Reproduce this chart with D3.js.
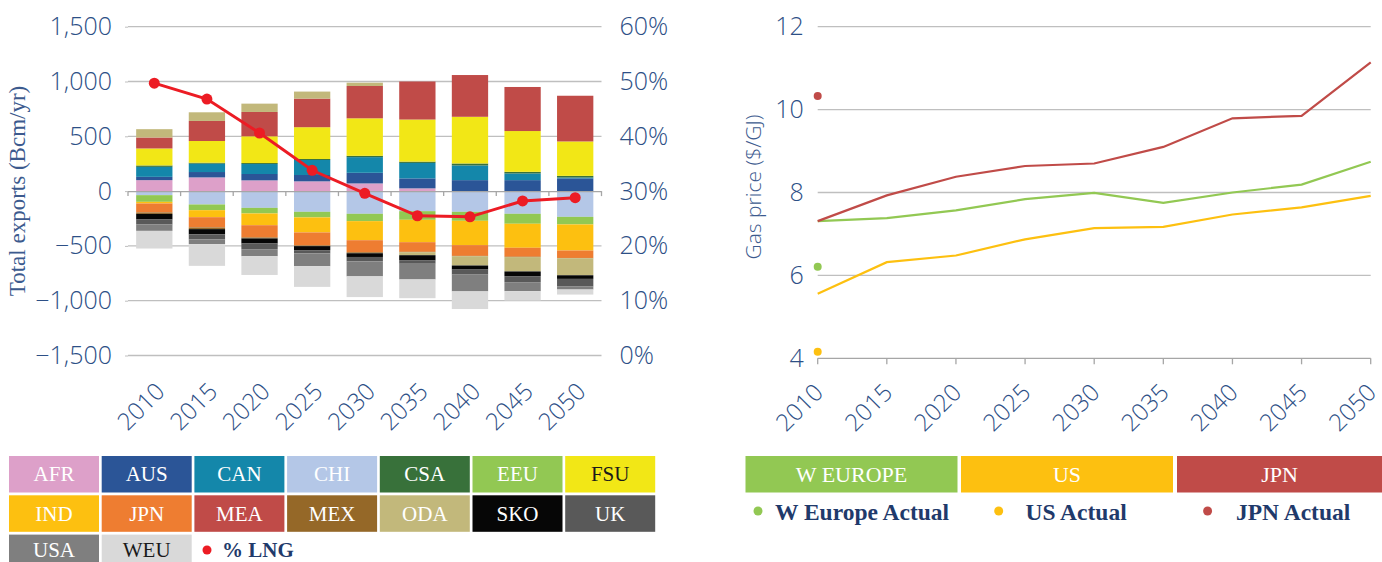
<!DOCTYPE html>
<html><head><meta charset="utf-8">
<script src="https://cdn.jsdelivr.net/npm/d3@7"></script>
<style>
body{margin:0;background:#fff;}
svg{display:block;}
</style></head>
<body>
<svg id="c" width="1382" height="562"></svg>
<script>
const years = ["2010","2015","2020","2025","2030","2035","2040","2045","2050"];
const regions = ["AFR","AUS","CAN","CHI","CSA","EEU","FSU","IND","JPN","MEA","MEX","ODA","SKO","UK","USA","WEU"];
const regionColors = ["#DDA0C9","#2B5597","#1487AA","#B4C7E7","#38713A","#92C853","#F2E716","#FDC010","#EE7D31","#C04B48","#956828","#C2B87B","#060606","#595959","#7F7F7F","#D9D9D9"];
const legendTextDark = ["FSU","WEU"];
// Bcm/yr, positive = exports, negative = imports
const AFR = [100,125,98,89,70,25,0,0,0];
const AUS = [30,49,58,58,97,91,100,100,116];
const CAN = [91,76,91,137,143,141,134,61,8];
const CHI = [-37,-122,-153,-189,-207,-183,-189,-207,-235];
const CSA = [13,9,9,9,12,12,18,15,15];
const EEU = [-61,-52,-51,-51,-67,-79,-82,-91,-69];
const FSU = [155,198,244,290,342,384,426,372,314];
const IND = [-15,-64,-107,-137,-174,-204,-222,-219,-238];
const JPN = [-82,-94,-112,-119,-110,-88,-98,-82,-68];
const MEA = [100,183,222,261,295,347,381,402,417];
const MEX = [-13,-15,-9,-6,-9,-4,-3,-3,-3];
const ODA = [76,79,76,64,30,-27,-85,-131,-155];
const SKO = [-51,-48,-46,-37,-34,-48,-37,-43,-33];
const UK = [-46,-46,-52,-30,-40,-30,-46,-55,-70];
const USA = [-58,-43,-64,-116,-137,-143,-153,-82,-27];
const WEU = [-161,-198,-171,-189,-189,-171,-161,-85,-46];
const lngShare = [0.497,0.468,0.406,0.338,0.296,0.255,0.253,0.282,0.288];
const leftTicks = [-1500,-1000,-500,0,500,1000,1500];
const rightTicks = [0,0.1,0.2,0.3,0.4,0.5,0.6];

const priceSeries = ["W EUROPE","US","JPN"];
const priceColors = ["#92C853","#FDC010","#C04B48"];
const weuPrice = [7.31,7.38,7.57,7.84,7.99,7.75,8.0,8.19,8.74];
const usPrice = [5.56,6.32,6.48,6.87,7.14,7.17,7.47,7.64,7.92];
const jpnPrice = [7.31,7.93,8.38,8.64,8.70,9.10,9.79,9.85,11.14];
const actualLabels = ["W Europe Actual","US Actual","JPN Actual"];
const actualValues = [6.21,4.16,10.33];
const priceTicks = [4,6,8,10,12];

const regionValues = {AFR,AUS,CAN,CHI,CSA,EEU,FSU,IND,JPN,MEA,MEX,ODA,SKO,UK,USA,WEU};
const rows = years.map((y,i)=>{const o={year:y}; regions.forEach(r=>o[r]=regionValues[r][i]); return o;});

const svg = d3.select("#c");
const navy = "#2D4F86";
const sans = "'Open Sans', 'Lato', sans-serif";
const serif = "'Liberation Serif', 'DejaVu Serif', serif";
const gridCol = "#BFBFBF";

// ---------- LEFT CHART ----------
const xL = d3.scaleBand().domain(years).range([128, 601.5]).padding(0);
const yL = d3.scaleLinear().domain([-1500,1500]).range([355.5, 26.7]);
const yR = d3.scaleLinear().domain([0,0.6]).range([355.5, 26.7]);
const barW = xL.bandwidth()*0.69;

svg.append("g").selectAll("line").data(leftTicks.filter(d=>d!==0)).join("line")
  .attr("x1",128).attr("x2",601.5).attr("y1",d=>yL(d)).attr("y2",d=>yL(d))
  .attr("stroke",gridCol).attr("stroke-width",1.3);

const colorScale = d3.scaleOrdinal().domain(regions).range(regionColors);
const stack = d3.stack().keys(regions).offset(d3.stackOffsetDiverging)(rows);
svg.append("g").selectAll("g").data(stack).join("g").attr("fill",d=>colorScale(d.key))
  .selectAll("rect").data(d=>d).join("rect")
  .attr("x",d=>xL(d.data.year)+(xL.bandwidth()-barW)/2)
  .attr("width",barW)
  .attr("y",d=>yL(Math.max(d[0],d[1])))
  .attr("height",d=>Math.abs(yL(d[0])-yL(d[1])));

const zeroY = yL(0);
svg.append("line").attr("x1",128).attr("x2",601.5).attr("y1",zeroY+0.5).attr("y2",zeroY+0.5)
  .attr("stroke","#A6A6A6").attr("stroke-width",1.3);
svg.append("g").selectAll("line").data(d3.range(years.length+1)).join("line")
  .attr("x1",i=>128+i*xL.step()).attr("x2",i=>128+i*xL.step())
  .attr("y1",zeroY).attr("y2",zeroY+5).attr("stroke","#A6A6A6").attr("stroke-width",1.3);

const axL = svg.append("g").attr("transform","translate(128,0)")
  .call(d3.axisLeft(yL).tickValues(leftTicks).tickSize(3).tickPadding(13).tickFormat(d3.format(",")));
axL.select(".domain").remove();
axL.selectAll(".tick line").attr("stroke",gridCol);
axL.selectAll("text").attr("font-family",sans).attr("font-weight",300).attr("font-size",25).attr("fill",navy);

const axR = svg.append("g").attr("transform","translate(601.5,0)")
  .call(d3.axisRight(yR).tickValues(rightTicks).tickSize(0).tickPadding(18).tickFormat(d3.format(".0%")));
axR.select(".domain").remove();
axR.selectAll("text").attr("font-family",sans).attr("font-weight",300).attr("font-size",25).attr("fill",navy);

svg.append("g").selectAll("text").data(years).join("text")
  .attr("transform",d=>`translate(${xL(d)+xL.bandwidth()/2+12},393) rotate(-45)`)
  .attr("text-anchor","end").attr("font-family",sans).attr("font-weight",300)
  .attr("font-size",24).attr("fill",navy).text(d=>d);

svg.append("text").attr("transform","translate(25,191) rotate(-90)").attr("text-anchor","middle")
  .attr("font-family",serif).attr("font-size",23).attr("fill","#3C5A8E").text("Total exports (Bcm/yr)");

const lng = d3.line().x((d,i)=>xL(years[i])+xL.bandwidth()/2).y(d=>yR(d));
svg.append("path").datum(lngShare).attr("d",lng).attr("fill","none").attr("stroke","#EC1C24").attr("stroke-width",3);
svg.append("g").selectAll("circle").data(lngShare).join("circle")
  .attr("cx",(d,i)=>xL(years[i])+xL.bandwidth()/2).attr("cy",d=>yR(d)).attr("r",5.5).attr("fill","#EC1C24");

const lg = svg.append("g");
const cellW = 90, cellH = 36.5, strideX = 92.7, strideY = 39.3;
regions.forEach((r,i)=>{
  const col = i%7, row = Math.floor(i/7);
  const x = 9+col*strideX, y = 456+row*strideY;
  lg.append("rect").attr("x",x).attr("y",y).attr("width",cellW).attr("height",cellH).attr("fill",colorScale(r));
  lg.append("text").attr("x",x+cellW/2).attr("y",row===2?557:y+cellH/2+7).attr("text-anchor","middle")
    .attr("font-family",serif).attr("font-size",21).attr("fill",legendTextDark.includes(r)?"#1a1a1a":"#fff").text(r);
});
lg.append("circle").attr("cx",207).attr("cy",550).attr("r",4.5).attr("fill","#EC1C24");
lg.append("text").attr("x",222).attr("y",557).attr("font-family",serif).attr("font-weight","bold")
  .attr("font-size",21).attr("fill","#1F3A6B").text("% LNG");

// ---------- RIGHT CHART ----------
const xP = d3.scalePoint().domain(years).range([817.7,1370.7]);
const yP = d3.scaleLinear().domain([4,12]).range([358.3,26.7]);

svg.append("g").selectAll("line").data(priceTicks).join("line")
  .attr("x1",817.7).attr("x2",1370.7).attr("y1",d=>yP(d)).attr("y2",d=>yP(d))
  .attr("stroke",d=>d===4?"#A6A6A6":gridCol).attr("stroke-width",1.3);
svg.append("g").selectAll("line").data(years).join("line")
  .attr("x1",d=>xP(d)).attr("x2",d=>xP(d)).attr("y1",yP(4)).attr("y2",yP(4)+6)
  .attr("stroke","#A6A6A6").attr("stroke-width",1.3);

const axP = svg.append("g").attr("transform","translate(817.7,0)")
  .call(d3.axisLeft(yP).tickValues(priceTicks).tickSize(0).tickPadding(14));
axP.select(".domain").remove();
axP.selectAll("text").attr("font-family",sans).attr("font-weight",300).attr("font-size",25).attr("fill",navy);

svg.append("g").selectAll("text").data(years).join("text")
  .attr("transform",d=>`translate(${xP(d)+7},394) rotate(-45)`)
  .attr("text-anchor","end").attr("font-family",sans).attr("font-weight",300)
  .attr("font-size",24).attr("fill",navy).text(d=>d);

svg.append("text").attr("transform","translate(761,187) rotate(-90)").attr("text-anchor","middle")
  .attr("font-family",sans).attr("font-weight",300).attr("font-size",21).attr("fill","#3C5A8E").text("Gas price ($/GJ)");

const priceData = [weuPrice, usPrice, jpnPrice];
const pl = d3.line().x((d,i)=>xP(years[i])).y(d=>yP(d));
priceData.forEach((s,k)=>{
  svg.append("path").datum(s).attr("d",pl).attr("fill","none").attr("stroke",priceColors[k]).attr("stroke-width",2.2);
});
svg.append("g").selectAll("circle").data(actualValues).join("circle")
  .attr("cx",xP("2010")).attr("cy",d=>yP(d)).attr("r",4).attr("fill",(d,i)=>priceColors[i]);

const rl = svg.append("g");
const rCells = [[745.5,212],[961,212],[1177,205]];
priceSeries.forEach((s,i)=>{
  rl.append("rect").attr("x",rCells[i][0]).attr("y",456).attr("width",rCells[i][1]).attr("height",36.5).attr("fill",priceColors[i]);
  rl.append("text").attr("x",rCells[i][0]+rCells[i][1]/2).attr("y",481.5).attr("text-anchor","middle")
    .attr("font-family",serif).attr("font-size",22).attr("fill","#fff").text(s);
});
const dotX = [758,998.7,1207.6], txtX = [775,1025.5,1236];
actualLabels.forEach((s,i)=>{
  rl.append("circle").attr("cx",dotX[i]).attr("cy",511).attr("r",4.5).attr("fill",priceColors[i]);
  rl.append("text").attr("x",txtX[i]).attr("y",519.5).attr("font-family",serif).attr("font-weight","bold")
    .attr("font-size",23.5).attr("fill","#1F3A6B").text(s);
});
</script>
</body></html>
